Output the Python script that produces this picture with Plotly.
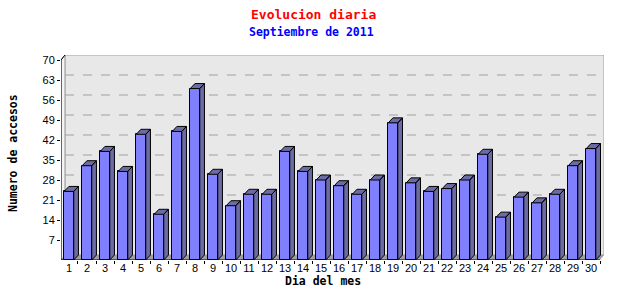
import plotly.graph_objects as go

days = list(range(1, 31))
day_labels = [str(d) for d in days]
visits = [24, 33, 38, 31, 44, 16, 45, 60, 30, 19,
          23, 23, 38, 31, 28, 26, 23, 28, 48, 27,
          24, 25, 28, 37, 15, 22, 20, 23, 33, 39]
y_ticks = [7, 14, 21, 28, 35, 42, 49, 56, 63, 70]

title = "Evolucion diaria"
subtitle = "Septiembre de 2011"
x_title = "Dia del mes"
y_title = "Numero de accesos"

# 3D geometry (in data units)
X0, X1 = 0.556, 30.5
YMAX = 70
BW = 0.53          # bar front width
DXB, DY = 0.26, 1.75   # bar depth offsets
DXW = 0.22         # wall depth offset x

FRONT = "#8080FF"
SIDE = "#6B6BA6"

fig = go.Figure()

fig.add_trace(go.Bar(
    x=days, y=visits, width=BW,
    marker=dict(color=FRONT, line=dict(color="black", width=1)),
    hoverinfo="skip", showlegend=False))

px, py = [], []
for d, v in zip(days, visits):
    l, r = d - BW / 2, d + BW / 2
    # side face
    px += [r, r + DXB, r + DXB, r, r, None]
    py += [0, DY, v + DY, v, 0, None]
    # top face
    px += [l, l + DXB, r + DXB, r, l, None]
    py += [v, v + DY, v + DY, v, v, None]
fig.add_trace(go.Scatter(
    x=px, y=py, mode="lines", fill="toself", fillcolor=SIDE,
    line=dict(color="black", width=1), hoverinfo="skip", showlegend=False))

shapes = []
# back wall
shapes.append(dict(type="rect", xref="x", yref="y", layer="below",
                   x0=X0 + DXW, x1=X1 + DXW, y0=DY, y1=YMAX + DY,
                   fillcolor="#E8E8E8", line=dict(color="#A0A0A0", width=1)))
# left wall
shapes.append(dict(type="path", xref="x", yref="y", layer="below",
                   path=f"M {X0} 0 L {X0+DXW} {DY} L {X0+DXW} {YMAX+DY} L {X0} {YMAX} Z",
                   fillcolor="#F4F4F4", line=dict(color="#A0A0A0", width=1)))
# grid lines on back wall
for t in y_ticks[:-1]:
    shapes.append(dict(type="line", xref="x", yref="y", layer="below",
                       x0=X0 + DXW, x1=X1 + DXW, y0=t + DY, y1=t + DY,
                       line=dict(color="#A0A0A0", width=1, dash="dash")))
# floor
shapes.append(dict(type="path", xref="x", yref="y", layer="below",
                   path=f"M {X0} 0 L {X1} 0 L {X1+DXW} {DY} L {X0+DXW} {DY} Z",
                   fillcolor="#A0A0A0", line=dict(color="#A0A0A0", width=0)))
# front axis lines
shapes.append(dict(type="line", xref="x", yref="y", x0=X0, x1=X0, y0=0, y1=YMAX,
                   line=dict(color="black", width=1)))
shapes.append(dict(type="line", xref="x", yref="y", x0=X0, x1=X1, y0=0, y1=0,
                   line=dict(color="black", width=1)))
shapes.append(dict(type="line", xref="x", yref="y", x0=X0, x1=X0 + DXW, y0=YMAX, y1=YMAX + DY,
                   line=dict(color="black", width=1)))

mono = "DejaVu Sans Mono"
annotations = [
    dict(text=f"<b>{title}</b>", x=313, y=14, xref="paper", yref="paper",
         font=dict(family=mono, size=13, color="#FF0000")),
    dict(text=f"<b>{subtitle}</b>", x=311, y=32, font=dict(family=mono, size=11.5, color="#0000FF")),
    dict(text=f"<b>{x_title}</b>", x=323, y=281, font=dict(family=mono, size=11.5, color="black")),
    dict(text=f"<b>{y_title}</b>", x=13, y=153, textangle=-90,
         font=dict(family=mono, size=11.5, color="black")),
]
W, H = 640, 300
ML, MR, MT, MB = 61, 36, 55, 40
for a in annotations:
    a["xref"] = "paper"
    a["yref"] = "paper"
    a["x"] = (a["x"] - ML) / (W - ML - MR)
    a["y"] = (H - MB - a["y"]) / (H - MT - MB)
    a["showarrow"] = False
    a["xanchor"] = "center"
    a["yanchor"] = "middle"

fig.update_layout(
    width=W, height=H,
    margin=dict(l=ML, r=MR, t=MT, b=MB, pad=0),
    paper_bgcolor="white", plot_bgcolor="rgba(0,0,0,0)",
    shapes=shapes, annotations=annotations, showlegend=False,
    xaxis=dict(range=[X0, X1 + DXW], tickvals=days, ticktext=day_labels,
               ticks="", showgrid=False, zeroline=False, showline=False,
               tickfont=dict(family="Liberation Sans", size=11, color="black"),
               minor=dict(tick0=0.5, dtick=1, ticks="outside", ticklen=3,
                          tickcolor="black", showgrid=False)),
    yaxis=dict(range=[0, YMAX + DY], tickvals=y_ticks, ticks="outside", ticklen=3,
               tickcolor="black", showgrid=False, zeroline=False, showline=False,
               tickfont=dict(family="Liberation Sans", size=11, color="black")),
    bargap=0,
)

fig.write_html("out.html")
